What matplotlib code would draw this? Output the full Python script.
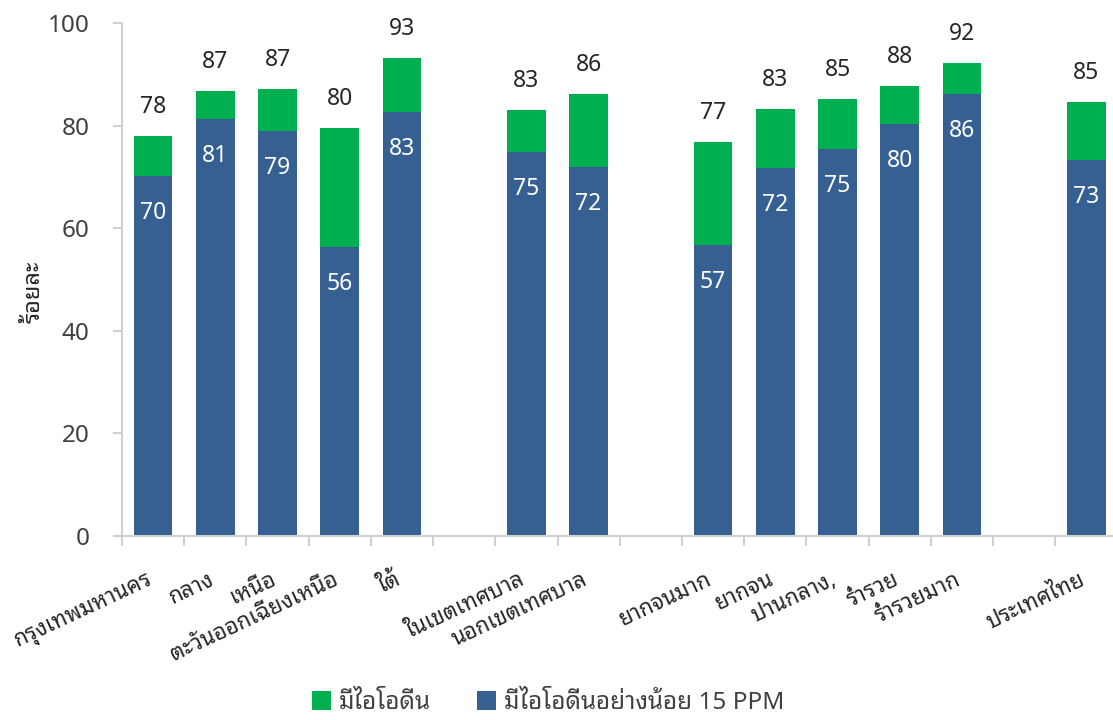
import matplotlib.pyplot as plt
import numpy as np

# Categories (blank entries are the gaps between groups)
categories = ['กรุงเทพมหานคร', 'กลาง', 'เหนือ', 'ตะวันออกเฉียงเหนือ', 'ใต้', '',
              'ในเขตเทศบาล', 'นอกเขตเทศบาล', '',
              'ยากจนมาก', 'ยากจน', 'ปานกลาง,', 'ร่ำรวย', 'ร่ำรวยมาก', '',
              'ประเทศไทย']

# At least 15 PPM (blue) and any iodine (green = total)
iodine_15ppm = [70.2, 81.2, 78.9, 56.4, 82.6, np.nan, 74.9, 71.9, np.nan,
                56.7, 71.7, 75.4, 80.4, 86.2, np.nan, 73.3]
iodine_total = [77.9, 86.7, 87.1, 79.6, 93.2, np.nan, 83.0, 86.1, np.nan,
                76.9, 83.3, 85.1, 87.8, 92.3, np.nan, 84.6]

series_names = ['มีไอโอดีน', 'มีไอโอดีนอย่างน้อย 15 PPM']

# digits in the plain Thai sans, Thai words in a looped face
plt.rcParams['font.family'] = ['Noto Sans Thai', 'DejaVu Sans']
thai_family = ['Noto Sans Thai Looped', 'IBM Plex Sans Thai Looped', 'Sarabun',
               'Noto Sans Thai', 'DejaVu Sans']

blue = np.array(iodine_15ppm)
total = np.array(iodine_total)
green = total - blue
x = np.arange(len(categories))

fig = plt.figure(figsize=(11.13, 7.2), dpi=100)
ax = fig.add_axes([0.1096, 0.2556, 0.8945, 0.7124])

b1 = ax.bar(x, blue, width=0.62, color='#366092', label=series_names[1])
b2 = ax.bar(x, green, bottom=blue, width=0.62, color='#00B050', label=series_names[0])

for i in x:
    if np.isnan(total[i]):
        continue
    ax.annotate(f"{total[i]:.0f}", (i, total[i]), xytext=(0, 29), textcoords='offset pixels',
                ha='center', va='center', fontsize=16.5, color='#262626')
    ax.annotate(f"{blue[i]:.0f}", (i, blue[i]), xytext=(0, -37), textcoords='offset pixels',
                ha='center', va='center', fontsize=16.5, color='white')

ax.set_xlim(-0.5, len(categories) - 0.5)
ax.set_ylim(0, 100)
ax.set_yticks(np.arange(0, 101, 20))
for s in ['top', 'right']:
    ax.spines[s].set_visible(False)
for s in ['left', 'bottom']:
    ax.spines[s].set_color('#d0d0d0')
    ax.spines[s].set_linewidth(1.5)

ax.tick_params(axis='y', length=6.5, width=1.5, color='#d0d0d0', pad=17,
               labelsize=17.5, labelcolor='#404040')

ax.set_xticks(x)
ax.set_xticklabels(categories, rotation=25, ha='right', va='baseline',
                   rotation_mode='anchor', fontsize=16, color='#262626',
                   family=thai_family)
ax.tick_params(axis='x', which='major', length=0, pad=34.5)
ax.set_xticks(np.arange(-0.5, len(categories), 1), minor=True)
ax.tick_params(axis='x', which='minor', length=7, width=1.5, color='#d0d0d0')

ax.set_ylabel('ร้อยละ', fontsize=17, color='#262626', family=thai_family)
ax.yaxis.set_label_coords(-0.077, 0.476)

leg = fig.legend(handles=[b2, b1], loc='center', bbox_to_anchor=(548 / 1113, 1 - 703 / 720),
                 ncol=2, frameon=False, fontsize=17.5, handlelength=0.8, handleheight=0.8,
                 handletextpad=0.3, columnspacing=1.9, labelcolor='#404040',
                 prop={'family': thai_family, 'size': 17.5})

fig.savefig('out.png', dpi=100)
